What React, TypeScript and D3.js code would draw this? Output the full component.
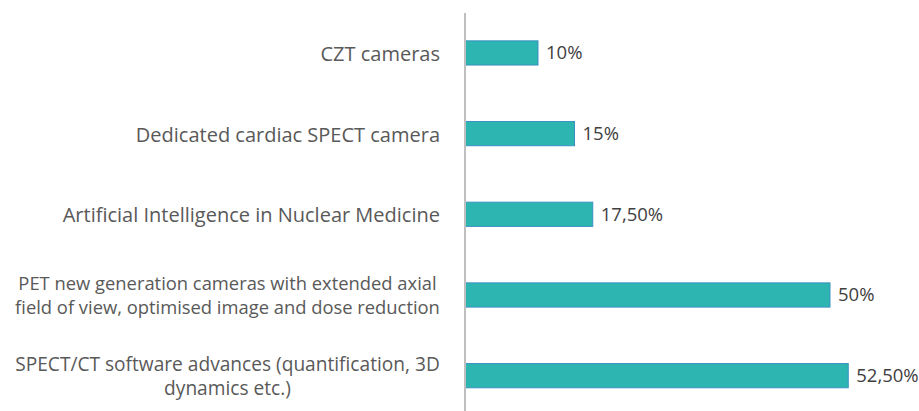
import { useEffect, useRef } from 'react';
import * as d3 from 'd3';

// category labels (one array entry per text line)
const categories = ['CZT', 'Cardiac', 'AI', 'PET', 'SPECTCT'];
const labelLines = [
  ['CZT cameras'],
  ['Dedicated cardiac SPECT camera'],
  ['Artificial Intelligence in Nuclear Medicine'],
  ['PET new generation cameras with extended axial', 'field of view, optimised image and dose reduction'],
  ['SPECT/CT software advances (quantification, 3D', 'dynamics etc.)'],
];
const values = [10, 15, 17.5, 50, 52.5];
const valueLabels = ['10%', '15%', '17,50%', '50%', '52,50%'];

const width = 919;
const height = 411;
const font = 'Open Sans, sans-serif';

export default function App() {
  const ref = useRef<SVGSVGElement>(null);

  useEffect(() => {
    const svg = d3.select(ref.current);
    svg.selectAll('*').remove();

    const x = d3.scaleLinear().domain([0, 10]).range([465, 538]);
    const y = d3.scaleBand<string>()
      .domain(categories)
      .range([12.6, 416])
      .paddingInner(0.7)
      .paddingOuter(0.35);

    // bars
    svg.append('g')
      .selectAll('rect')
      .data(values)
      .join('rect')
      .attr('x', x(0))
      .attr('y', (d, i) => y(categories[i])!)
      .attr('width', d => x(d) - x(0))
      .attr('height', y.bandwidth())
      .attr('fill', '#2db6b1')
      .attr('stroke', '#3a92c2')
      .attr('stroke-width', 1);

    // axis line
    svg.append('line')
      .attr('x1', x(0)).attr('x2', x(0))
      .attr('y1', 13).attr('y2', height)
      .attr('stroke', '#bfbfbf')
      .attr('stroke-width', 2);

    // value labels
    svg.append('g')
      .selectAll('text')
      .data(values)
      .join('text')
      .attr('x', d => x(d) + 8)
      .attr('y', (d, i) => y(categories[i])! + y.bandwidth() / 2)
      .attr('dy', '0.35em')
      .attr('font-family', font)
      .attr('font-size', 18.5)
      .attr('fill', '#404040')
      .text((d, i) => valueLabels[i]);

    // category labels: block right aligned, lines centred inside the block
    const lineH = 24;
    const right = 440;
    const maxLabelW = 425;
    labelLines.forEach((lines, i) => {
      const cy = y(categories[i])! + y.bandwidth() / 2;
      const g = svg.append('g');
      const texts = g.selectAll('text')
        .data(lines)
        .join('text')
        .attr('y', (d, j) => cy + 1 + (j - (lines.length - 1) / 2) * lineH)
        .attr('dy', '0.35em')
        .attr('font-family', font)
        .attr('font-size', 20)
        .attr('fill', '#595959')
        .attr('text-anchor', 'middle')
        .text(d => d);
      let maxW = 0;
      texts.each(function () {
        maxW = Math.max(maxW, (this as SVGTextElement).getComputedTextLength());
      });
      if (maxW > maxLabelW) {
        texts.attr('font-size', 20 * maxLabelW / maxW);
        maxW = maxLabelW;
      }
      texts.attr('x', right - maxW / 2);
    });
  }, []);

  return (
    <svg
      ref={ref}
      width={width}
      height={height}
      style={{ position: 'absolute', left: 0, top: 0, background: '#fff' }}
    />
  );
}
